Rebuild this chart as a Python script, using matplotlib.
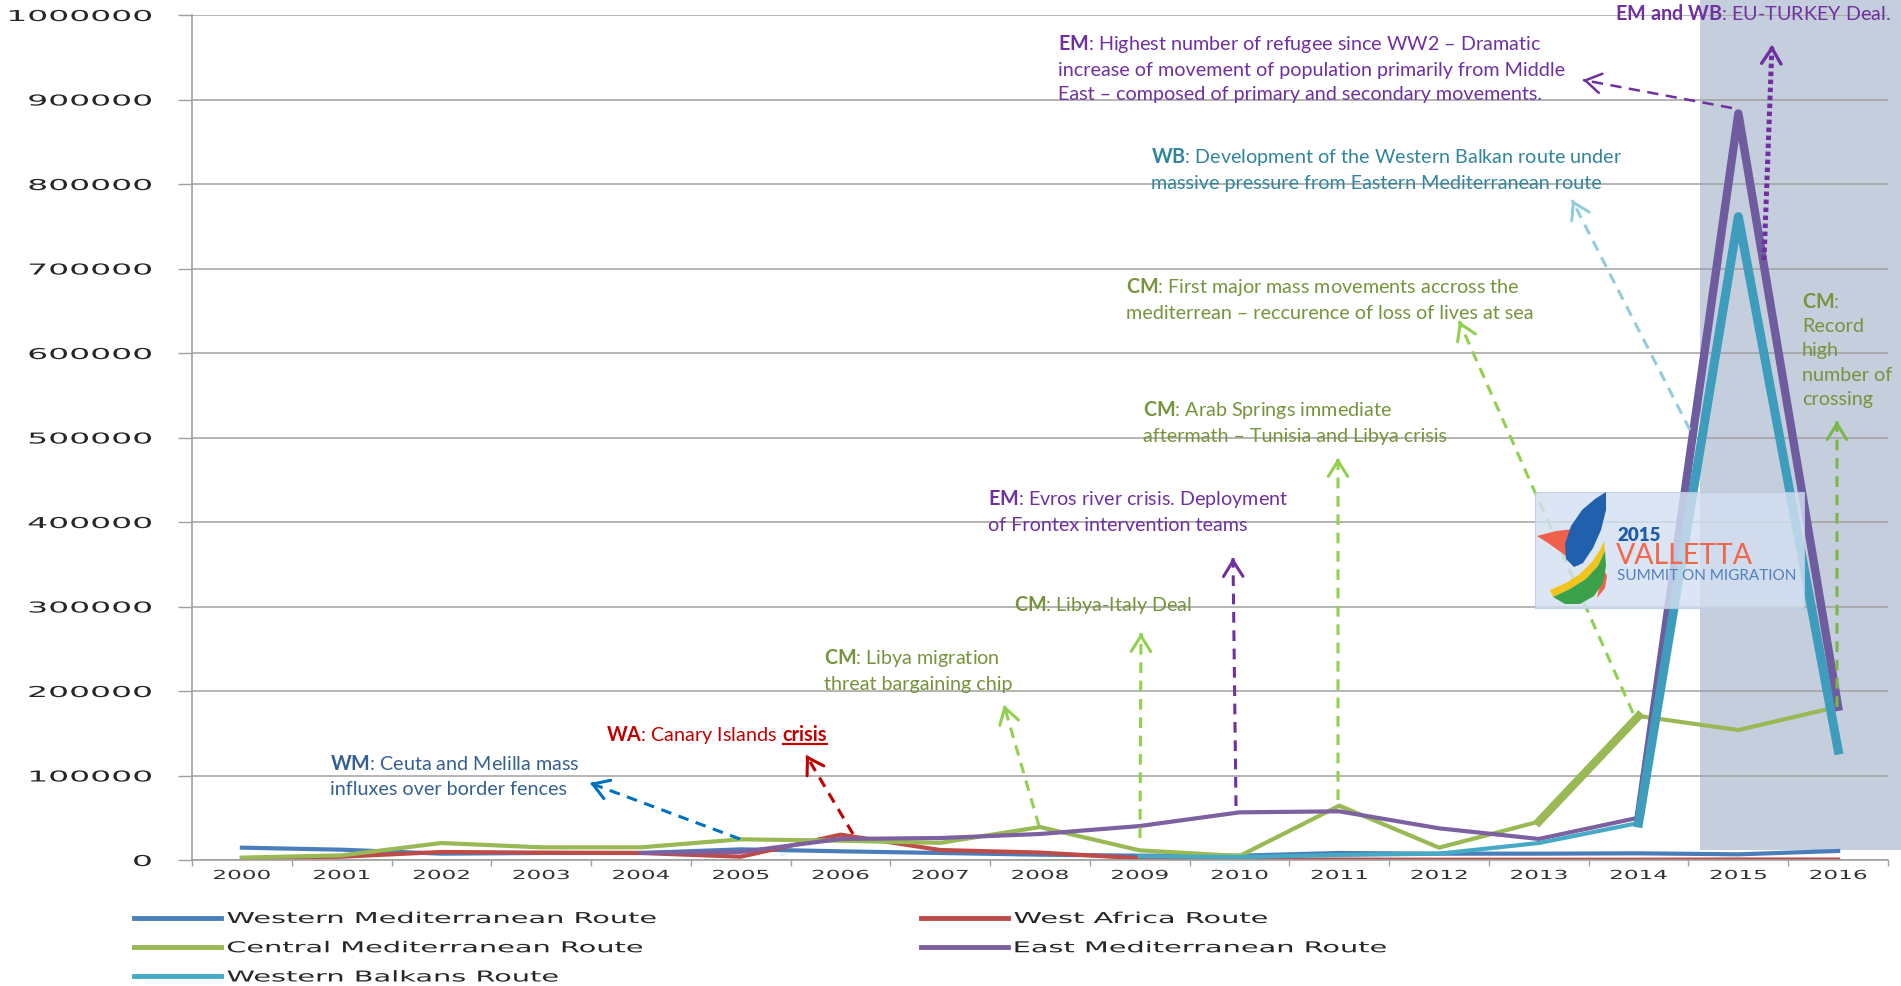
import numpy as np
import matplotlib
matplotlib.use('Agg')
import matplotlib.pyplot as plt
from matplotlib import patheffects
from matplotlib.transforms import Affine2D
from matplotlib.patches import Rectangle, Polygon
from matplotlib.lines import Line2D
from matplotlib.ticker import NullFormatter

W, H = 1901, 986
nan = np.nan

years = np.arange(2000, 2017)
western_med = [14600, 12200, 7500, 8300, 8300, 12600, 10300, 8300, 6300, 5100,
               5100, 8300, 7500, 7500, 7900, 6700, 10700]
west_africa = [2000, 3900, 9500, 8700, 8300, 3900, 30000, 11800, 8800, 2000,
               400, 500, 300, 300, 300, 600, 500]
central_med = [2800, 5500, 20100, 15000, 15000, 24500, 22800, 20300, 39000, 11400,
               4700, 64300, 14600, 45400, 170400, 153800, 181400]
east_med = [nan, nan, nan, nan, 8300, 9500, 24900, 26000, 30800, 40200,
            56400, 57600, 37500, 24900, 50100, 883500, 181400]
west_balkans = [nan, nan, nan, nan, nan, nan, nan, nan, nan, 4300,
                3500, 5900, 7500, 20100, 43800, 761400, 130200]

route_names = ['Western Mediterranean Route', 'West Africa Route',
               'Central Mediterranean Route', 'East Mediterranean Route',
               'Western Balkans Route']
route_colors = ['#4A7EBB', '#BE4B48', '#98B954', '#7D60A0', '#46AAC5']
y_ticks = np.arange(0, 1000001, 100000)

plt.rcParams['mathtext.fontset'] = 'custom'
plt.rcParams['mathtext.rm'] = 'Lato'
plt.rcParams['mathtext.bf'] = 'Lato:bold'
plt.rcParams['mathtext.it'] = 'Lato:italic'


class Stretch(patheffects.AbstractPathEffect):
    """Widen text horizontally (the source chart has stretched Excel labels)."""
    def __init__(self, sx, anchor='center'):
        super().__init__()
        self.sx = sx
        self.anchor = anchor

    def draw_path(self, renderer, gc, tpath, affine, rgbFace=None):
        ext = tpath.get_extents(affine)
        x0 = {'left': ext.x0, 'right': ext.x1}.get(self.anchor, (ext.x0 + ext.x1) / 2)
        st = Affine2D().translate(-x0, 0).scale(self.sx, 1).translate(x0, 0)
        renderer.draw_path(gc, tpath, affine + st, rgbFace)


def fx(x):
    return x / W


def fy(y):
    return 1 - y / H


fig = plt.figure(figsize=(W / 100, H / 100), dpi=100)
ax = fig.add_axes([fx(192), fy(860), (1888 - 192) / W, (860 - 15) / H])

# highlighted 2015-2016 period
ax.add_patch(Rectangle((2014.62, 11800), 2.3, 1.05e6, facecolor='#C4CEDC',
                       edgecolor='none', zorder=0.3, clip_on=False))

series = [western_med, west_africa, central_med, east_med, west_balkans]
lines = []
for vals, name, col in zip(series, route_names, route_colors):
    ln, = ax.plot(years, vals, color=col, lw=3, label=name, zorder=2)
    lines.append(ln)
# heavier segments as in the source
ax.plot(years[13:15], central_med[13:15], color=route_colors[2], lw=6, zorder=2)
ax.plot(years[14:], east_med[14:], color='#6E5C9E', lw=6, zorder=2.1)
ax.plot(years[14:], west_balkans[14:], color='#3E9DBD', lw=6.5, zorder=2.2)

ax.set_xlim(1999.5, 2016.5)
ax.set_ylim(0, 1000000)
ax.set_axisbelow(True)
ax.yaxis.grid(True, color='#A0A0A0', lw=1.1)
for s in ['top', 'right']:
    ax.spines[s].set_visible(False)
for s in ['left', 'bottom']:
    ax.spines[s].set_color('#A0A0A0')
    ax.spines[s].set_linewidth(1.2)

ax.set_yticks(y_ticks)
ax.set_yticklabels([str(v) for v in y_ticks])
ax.tick_params(axis='y', length=10, width=1, color='#A0A0A0', pad=19,
               labelsize=10.8, labelcolor='#262626')
ax.set_xticks(np.arange(1999.5, 2016.6, 1))
ax.xaxis.set_major_formatter(NullFormatter())
ax.set_xticks(years, minor=True)
ax.set_xticklabels([str(y) for y in years], minor=True)
ax.tick_params(axis='x', which='major', length=4, width=1, color='#A0A0A0')
ax.tick_params(axis='x', which='minor', length=0, pad=6.5, labelsize=9,
               labelcolor='#333333')
for t in ax.yaxis.get_major_ticks():
    t.label1.set_path_effects([Stretch(2.2, 'right')])
for t in ax.xaxis.get_minor_ticks():
    t.label1.set_path_effects([Stretch(1.85, 'center')])

# legend in two columns
leg_kw = dict(loc='upper left', frameon=False, fontsize=10.8, handlelength=5.8,
              handletextpad=0.4, labelspacing=0.95, borderpad=0,
              borderaxespad=0, labelcolor='#262626')
leg1 = fig.legend([lines[0], lines[2], lines[4]],
                  [route_names[0], route_names[2], route_names[4]],
                  bbox_to_anchor=(fx(134), fy(911)), **leg_kw)
leg2 = fig.legend([lines[1], lines[3]], [route_names[1], route_names[3]],
                  bbox_to_anchor=(fx(921), fy(911)), **leg_kw)
for lg in (leg1, leg2):
    for ln in lg.get_lines():
        ln.set_linewidth(3.5)
    for t in lg.get_texts():
        t.set_path_effects([Stretch(1.92, 'left')])


def arrow(tail, head, color, ls=(0, (3.5, 2.5)), lw=2.2):
    p0 = (tail[0], H - tail[1])
    p1 = (head[0], H - head[1])
    ax.annotate('', xy=p1, xycoords='figure pixels', xytext=p0,
                textcoords='figure pixels', annotation_clip=False,
                arrowprops=dict(arrowstyle='-', color=color, lw=lw, linestyle=ls,
                                capstyle='butt', shrinkA=0, shrinkB=0))
    d = np.array(p1) - np.array(p0)
    d = d / np.hypot(*d)
    pb = tuple(np.array(p1) - 3 * d)
    ax.annotate('', xy=p1, xycoords='figure pixels', xytext=pb,
                textcoords='figure pixels', annotation_clip=False,
                arrowprops=dict(arrowstyle='->,head_length=0.8,head_width=0.5',
                                color=color, lw=min(lw, 2.4), shrinkA=0, shrinkB=0,
                                mutation_scale=14))


EM_C, WB_C, CM_C, WA_C, WM_C = '#7030A0', '#31859C', '#77933C', '#C00000', '#376092'
txt_kw = dict(family='Lato', fontsize=14.2, va='center', ha='left', linespacing=1.52)

fig.text(fx(1615), fy(13), r'$\mathbf{EM\ and\ WB}$: EU-TURKEY Deal.', color=EM_C, **txt_kw)
fig.text(fx(1058), fy(68), r'$\mathbf{EM}$: Highest number of refugee since WW2 – Dramatic' '\n'
         'increase of movement of population primarily from Middle\n'
         'East – composed of primary and secondary movements.', color=EM_C, **txt_kw)
fig.text(fx(1151), fy(169), r'$\mathbf{WB}$: Development of the Western Balkan route under' '\n'
         'massive pressure from Eastern Mediterranean route', color=WB_C, **txt_kw)
fig.text(fx(1126), fy(299), r'$\mathbf{CM}$: First major mass movements accross the' '\n'
         'mediterrean – reccurence of loss of lives at sea', color=CM_C, **txt_kw)
fig.text(fx(1802), fy(350), r'$\mathbf{CM}$:' '\nRecord\nhigh\nnumber of\ncrossing',
         color=CM_C, **txt_kw)
fig.text(fx(1143), fy(422), r'$\mathbf{CM}$: Arab Springs immediate' '\n'
         'aftermath – Tunisia and Libya crisis', color=CM_C, **txt_kw)
fig.text(fx(988), fy(511), r'$\mathbf{EM}$: Evros river crisis. Deployment' '\n'
         'of Frontex intervention teams', color=EM_C, **txt_kw)
fig.text(fx(1014), fy(605), r'$\mathbf{CM}$: Libya-Italy Deal', color=CM_C, **txt_kw)
fig.text(fx(824), fy(670), r'$\mathbf{CM}$: Libya migration' '\n'
         'threat bargaining chip', color=CM_C, **txt_kw)
wa_txt = fig.text(fx(606), fy(735), r'$\mathbf{WA}$: Canary Islands', color=WA_C, **txt_kw)
crisis = ax.annotate('crisis', xy=(1, 0.5), xycoords=wa_txt, xytext=(4, 0),
                     textcoords='offset points', color=WA_C, family='Lato',
                     fontsize=14.2, fontweight='bold', va='center', ha='left',
                     annotation_clip=False)
fig.text(fx(330), fy(776), r'$\mathbf{WM}$: Ceuta and Melilla mass' '\n'
         'influxes over border fences', color=WM_C, **txt_kw)

# arrows (tail -> head), figure pixel positions measured from the source
arrow((740, 839), (590, 783), '#0070C0')
arrow((853, 834), (806, 755), '#C00000')
arrow((1039, 826), (1004, 705), '#92D050')
arrow((1140, 838), (1141, 633), '#92D050')
arrow((1236, 806), (1233, 558), '#7030A0')
arrow((1338, 800), (1338, 458), '#92D050')
arrow((1633, 713), (1459, 321), '#92D050')
arrow((1690, 430), (1572, 200), '#92CDDC')
arrow((1732, 108), (1583, 80), '#7030A0', ls=(0, (4.5, 3)), lw=1.8)
arrow((1764, 260), (1772, 45), '#7030A0', ls=(0, (0.9, 0.7)), lw=3.6)
arrow((1837, 707), (1837, 421), '#7AB648')

# Valletta summit logo box
fig.add_artist(Rectangle((fx(1535), fy(608)), (1804 - 1535) / W, (608 - 492) / H,
                         transform=fig.transFigure, facecolor='#D3E0F2', alpha=0.82,
                         edgecolor='#B9CBE3', lw=0.8, zorder=1))


def logo_shape(pts, color):
    xy = [(fx(x), fy(y)) for x, y in pts]
    fig.add_artist(Polygon(xy, closed=True, transform=fig.transFigure,
                           facecolor=color, edgecolor='none', zorder=1.5))


logo_shape([(1537, 536), (1556, 531), (1574, 529), (1577, 546), (1579, 566),
            (1562, 553), (1548, 543)], '#F0614B')
logo_shape([(1602, 566), (1607, 576), (1605, 588), (1597, 598), (1600, 584)], '#F0614B')
logo_shape([(1606, 492), (1606, 510), (1601, 530), (1593, 548), (1583, 563),
            (1574, 567), (1566, 559), (1565, 544), (1571, 526), (1582, 510),
            (1595, 499)], '#2160AC')
logo_shape([(1550, 590), (1566, 583), (1580, 574), (1592, 562), (1600, 550),
            (1604, 541), (1605, 551), (1598, 566), (1586, 579), (1570, 589),
            (1553, 597)], '#F2C318')
logo_shape([(1553, 597), (1570, 589), (1586, 579), (1598, 566), (1605, 551),
            (1606, 566), (1603, 583), (1594, 596), (1580, 604), (1565, 604)], '#3AA049')
fig.text(fx(1617), fy(541), '2015', family='Lato', fontweight='heavy', fontsize=13.5,
         color='#1F5AA6', va='baseline', ha='left', zorder=2)
fig.text(fx(1616), fy(564), 'VALLETTA', family='Lato', fontsize=20.5,
         color='#F26649', va='baseline', ha='left', zorder=2)
fig.text(fx(1617), fy(580), 'SUMMIT ON MIGRATION', family='Lato', fontsize=11.0,
         color='#4F81BD', va='baseline', ha='left', zorder=2)

# underline "crisis"
fig.canvas.draw()
bb = crisis.get_window_extent()
inv = fig.transFigure.inverted()
(ux0, uy), (ux1, _) = inv.transform([(bb.x0, bb.y0 + 1), (bb.x1, bb.y0 + 1)])
fig.add_artist(Line2D([ux0, ux1], [uy, uy], transform=fig.transFigure,
                      color=WA_C, lw=1.6))

fig.savefig('out.png', dpi=100)
